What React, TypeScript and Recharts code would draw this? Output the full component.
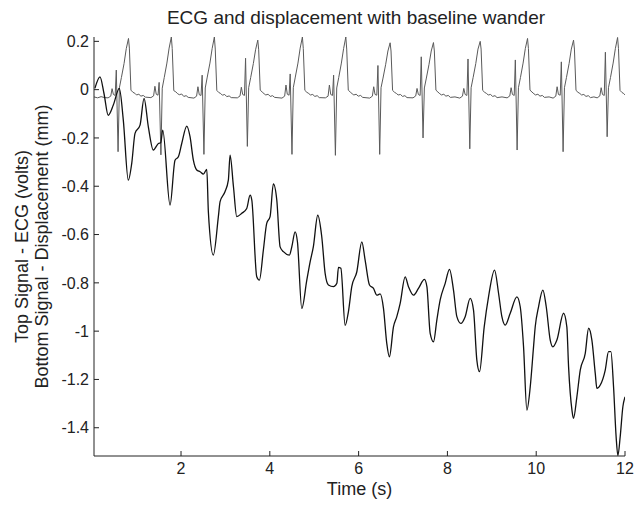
import { LineChart, Line, XAxis, YAxis, Label } from "recharts";

const FONT = '"Liberation Sans", Arial, sans-serif';

const timeTicks = [2, 4, 6, 8, 10, 12];
const signalTicks = [0.2, 0, -0.2, -0.4, -0.6, -0.8, -1, -1.2, -1.4];

// ECG (volts), [time s, value], one array per beat
const ecgLead = [[0.04, -0.03], [0.12, -0.034], [0.2, -0.029], [0.28, -0.033]];
const ecgBeat01 = [[0.357, -0.034], [0.417, -0.027], [0.447, 0.004], [0.477, -0.02], [0.517, -0.024], [0.542, 0.081], [0.582, -0.257], [0.612, 0.008], [0.657, 0.05], [0.717, 0.108], [0.767, 0.17], [0.817, 0.212], [0.837, 0.172], [0.872, -0.002], [0.917, -0.011], [0.96, -0.015], [0.997, -0.022], [1.05, -0.019], [1.097, -0.027], [1.15, -0.024], [1.197, -0.031]];
const ecgBeat02 = [[1.322, -0.033], [1.382, -0.026], [1.412, 0.014], [1.442, -0.019], [1.482, -0.023], [1.507, 0.03], [1.547, -0.27], [1.577, 0.006], [1.622, 0.05], [1.682, 0.11], [1.732, 0.172], [1.782, 0.218], [1.802, 0.17], [1.837, -0.004], [1.882, -0.009], [1.925, -0.017], [1.962, -0.021], [2.015, -0.018], [2.062, -0.028], [2.115, -0.025], [2.162, -0.032]];
const ecgBeat03 = [[2.291, -0.035], [2.351, -0.027], [2.381, 0.012], [2.411, -0.021], [2.451, -0.024], [2.476, 0.06], [2.516, -0.268], [2.546, 0.007], [2.591, 0.052], [2.651, 0.11], [2.701, 0.17], [2.751, 0.218], [2.771, 0.168], [2.806, -0.003], [2.851, -0.012], [2.894, -0.016], [2.931, -0.023], [2.984, -0.02], [3.031, -0.029], [3.084, -0.026], [3.131, -0.033]];
const ecgBeat04 = [[3.269, -0.034], [3.329, -0.026], [3.359, 0.01], [3.389, -0.02], [3.429, -0.024], [3.454, 0.13], [3.494, -0.235], [3.524, 0.008], [3.569, 0.05], [3.629, 0.108], [3.679, 0.165], [3.729, 0.205], [3.749, 0.165], [3.784, -0.002], [3.829, -0.01], [3.872, -0.017], [3.909, -0.022], [3.962, -0.019], [4.009, -0.028], [4.062, -0.025], [4.109, -0.032]];
const ecgBeat05 = [[4.274, -0.035], [4.334, -0.027], [4.364, 0.019], [4.394, -0.019], [4.434, -0.023], [4.459, 0.065], [4.499, -0.268], [4.529, 0.008], [4.574, 0.052], [4.634, 0.11], [4.684, 0.172], [4.734, 0.218], [4.754, 0.17], [4.789, -0.003], [4.834, -0.011], [4.877, -0.016], [4.914, -0.022], [4.967, -0.02], [5.014, -0.028], [5.067, -0.025], [5.114, -0.033]];
const ecgBeat06 = [[5.252, -0.034], [5.312, -0.027], [5.342, 0.019], [5.372, -0.02], [5.412, -0.024], [5.437, 0.06], [5.477, -0.272], [5.507, 0.007], [5.552, 0.05], [5.612, 0.11], [5.662, 0.17], [5.712, 0.218], [5.732, 0.168], [5.767, -0.002], [5.812, -0.01], [5.855, -0.017], [5.892, -0.022], [5.945, -0.019], [5.992, -0.027], [6.045, -0.024], [6.092, -0.032]];
const ecgBeat07 = [[6.25, -0.035], [6.31, -0.027], [6.34, 0.012], [6.37, -0.02], [6.41, -0.023], [6.435, 0.1], [6.475, -0.268], [6.505, 0.008], [6.55, 0.048], [6.61, 0.105], [6.66, 0.16], [6.71, 0.194], [6.73, 0.16], [6.765, -0.003], [6.81, -0.011], [6.853, -0.016], [6.89, -0.022], [6.943, -0.02], [6.99, -0.028], [7.043, -0.025], [7.09, -0.033]];
const ecgBeat08 = [[7.226, -0.034], [7.286, -0.026], [7.316, 0.005], [7.346, -0.02], [7.386, -0.024], [7.411, 0.136], [7.451, -0.2], [7.481, 0.007], [7.526, 0.048], [7.586, 0.105], [7.636, 0.16], [7.686, 0.195], [7.706, 0.16], [7.741, -0.002], [7.786, -0.01], [7.829, -0.017], [7.866, -0.022], [7.919, -0.019], [7.966, -0.027], [8.019, -0.024], [8.066, -0.032], [8.17, -0.03]];
const ecgBeat09 = [[8.279, -0.035], [8.339, -0.027], [8.369, 0.005], [8.399, -0.02], [8.439, -0.024], [8.464, 0.127], [8.504, -0.245], [8.534, 0.008], [8.579, 0.05], [8.639, 0.108], [8.689, 0.168], [8.739, 0.2], [8.759, 0.168], [8.794, -0.003], [8.839, -0.011], [8.882, -0.016], [8.919, -0.022], [8.972, -0.02], [9.019, -0.028], [9.072, -0.025], [9.119, -0.033], [9.23, -0.03]];
const ecgBeat10 = [[9.345, -0.034], [9.405, -0.026], [9.435, 0.008], [9.465, -0.02], [9.505, -0.024], [9.53, 0.123], [9.57, -0.25], [9.6, 0.008], [9.645, 0.05], [9.705, 0.11], [9.755, 0.17], [9.805, 0.212], [9.825, 0.17], [9.86, -0.002], [9.905, -0.01], [9.948, -0.017], [9.985, -0.022], [10.038, -0.019], [10.085, -0.027], [10.138, -0.024], [10.185, -0.032], [10.29, -0.03]];
const ecgBeat11 = [[10.381, -0.035], [10.441, -0.027], [10.471, 0.012], [10.501, -0.02], [10.541, -0.023], [10.566, 0.115], [10.606, -0.257], [10.636, 0.008], [10.681, 0.05], [10.741, 0.108], [10.791, 0.168], [10.841, 0.205], [10.861, 0.168], [10.896, -0.003], [10.941, -0.011], [10.984, -0.016], [11.021, -0.022], [11.074, -0.02], [11.121, -0.028], [11.174, -0.025], [11.221, -0.033], [11.3, -0.03]];
const ecgBeat12 = [[11.373, -0.034], [11.433, -0.026], [11.463, 0.008], [11.493, -0.02], [11.533, -0.024], [11.558, 0.155], [11.598, -0.195], [11.628, 0.008], [11.673, 0.05], [11.733, 0.11], [11.783, 0.17], [11.833, 0.216], [11.853, 0.17], [11.888, -0.003], [11.933, -0.012], [11.97, -0.016], [12.0, -0.022]];

// displacement (mm), [time s, value]
const displacementEarly = [[0.06, 0.005], [0.175, 0.053], [0.265, -0.016], [0.36, -0.106], [0.475, -0.064], [0.61, 0.005], [0.7, -0.126], [0.813, -0.375], [0.89, -0.305], [0.964, -0.181], [1.077, -0.147], [1.167, -0.036], [1.264, -0.154], [1.376, -0.25], [1.49, -0.223], [1.543, -0.22], [1.588, -0.168], [1.753, -0.478], [1.865, -0.292], [1.94, -0.278], [2.016, -0.223], [2.13, -0.151], [2.203, -0.195], [2.278, -0.292], [2.354, -0.333], [2.43, -0.34], [2.503, -0.35], [2.58, -0.33], [2.616, -0.506], [2.728, -0.685], [2.841, -0.526], [2.88, -0.464], [2.99, -0.423], [3.066, -0.375], [3.105, -0.271], [3.18, -0.4], [3.256, -0.526], [3.368, -0.512], [3.48, -0.492], [3.556, -0.437], [3.594, -0.457], [3.706, -0.775], [3.765, -0.789], [3.855, -0.664], [3.93, -0.554], [4.006, -0.526], [4.08, -0.39]];
const displacementMid = [[4.157, -0.457], [4.232, -0.651], [4.306, -0.671], [4.441, -0.685], [4.495, -0.651], [4.57, -0.589], [4.622, -0.63], [4.72, -0.906], [4.833, -0.789], [4.908, -0.713], [4.98, -0.651], [5.08, -0.52], [5.17, -0.609], [5.246, -0.761], [5.32, -0.809], [5.433, -0.816], [5.51, -0.802], [5.546, -0.736], [5.6, -0.74], [5.697, -0.976], [5.77, -0.92], [5.846, -0.816], [5.96, -0.754], [6.072, -0.63], [6.147, -0.706], [6.245, -0.809], [6.335, -0.823], [6.41, -0.851], [6.485, -0.846], [6.56, -0.906], [6.634, -1.05], [6.694, -1.106], [6.785, -0.982], [6.86, -0.94], [6.936, -0.885], [7.048, -0.775], [7.123, -0.816], [7.236, -0.851], [7.348, -0.823], [7.483, -0.786], [7.538, -0.816], [7.612, -1.009], [7.687, -1.044], [7.762, -0.954], [7.837, -0.871], [7.95, -0.802], [8.047, -0.744]];
const displacementLate = [[8.137, -0.83], [8.213, -0.94], [8.303, -0.968], [8.4, -0.94], [8.513, -0.864], [8.588, -0.913], [8.663, -1.12], [8.723, -1.168], [8.829, -0.982], [8.926, -0.858], [9.062, -0.747], [9.152, -0.843], [9.227, -0.94], [9.302, -0.975], [9.415, -0.926], [9.565, -0.858], [9.64, -0.899], [9.715, -1.065], [9.79, -1.327], [9.866, -1.23], [9.94, -1.065], [9.978, -0.982], [10.053, -0.899], [10.15, -0.83], [10.226, -0.899], [10.316, -1.037], [10.376, -1.065], [10.466, -1.037], [10.616, -0.926], [10.69, -0.982], [10.729, -1.147], [10.805, -1.327], [10.84, -1.361], [10.916, -1.272], [10.992, -1.161], [11.105, -1.092], [11.18, -0.988], [11.254, -1.037], [11.33, -1.175], [11.367, -1.237], [11.443, -1.223], [11.555, -1.161], [11.63, -1.085], [11.682, -1.085], [11.742, -1.23], [11.8, -1.437], [11.84, -1.515], [11.892, -1.437], [11.952, -1.313], [12.0, -1.272]];

const toRows = (pairs: number[][]) => pairs.map(([t, v]) => ({ t, v }));

const ecg = toRows([
  ...ecgLead, ...ecgBeat01, ...ecgBeat02, ...ecgBeat03, ...ecgBeat04, ...ecgBeat05, ...ecgBeat06,
  ...ecgBeat07, ...ecgBeat08, ...ecgBeat09, ...ecgBeat10, ...ecgBeat11, ...ecgBeat12,
]);
const displacement = toRows([...displacementEarly, ...displacementMid, ...displacementLate]);

const fmtSignal = (v: number) => {
  const r = Math.round(v * 10) / 10;
  return r === 0 ? "0" : String(r);
};

const tickStyle = { fontFamily: FONT, fontSize: 16, fill: "#222" };

const YTitle = ({ viewBox }: any) => {
  const cy = viewBox.y + viewBox.height / 2;
  return (
    <g fontFamily={FONT} fontSize={18} fill="#222">
      <text transform={`translate(28, ${cy}) rotate(-90)`} textAnchor="middle">
        Top Signal - ECG (volts)
      </text>
      <text transform={`translate(48, ${cy}) rotate(-90)`} textAnchor="middle">
        Bottom Signal - Displacement (mm)
      </text>
    </g>
  );
};

export default function App() {
  return (
    <div style={{ position: "absolute", left: 0, top: 0, width: 636, height: 506, background: "#fff" }}>
      <div
        style={{
          position: "absolute",
          left: 56,
          width: 600,
          top: 8,
          textAlign: "center",
          fontFamily: FONT,
          fontSize: 19,
          lineHeight: "19px",
          color: "#222",
        }}
      >
        ECG and displacement with baseline wander
      </div>
      <LineChart width={636} height={506} margin={{ top: 37, right: 11, bottom: 0, left: 0 }}>
        <XAxis
          dataKey="t"
          type="number"
          domain={[0.04, 12]}
          ticks={timeTicks}
          allowDataOverflow
          height={50}
          stroke="#222"
          tickSize={-5}
          tickMargin={12}
          tick={tickStyle}
        >
          <Label value="Time (s)" position="insideBottom" offset={11} style={{ fontFamily: FONT, fontSize: 18, fill: "#222" }} />
        </XAxis>
        <XAxis
          xAxisId="top"
          orientation="top"
          dataKey="t"
          type="number"
          domain={[0.04, 12]}
          ticks={timeTicks}
          allowDataOverflow
          height={0}
          stroke="#222"
          tickSize={-5}
          tick={false}
        />
        <YAxis
          type="number"
          domain={[-1.517, 0.218]}
          ticks={signalTicks}
          allowDataOverflow
          width={94}
          stroke="#222"
          tickSize={-5}
          tickMargin={10}
          tick={tickStyle}
          tickFormatter={fmtSignal}
        >
          <Label content={YTitle} />
        </YAxis>
        <YAxis
          yAxisId="right"
          orientation="right"
          type="number"
          domain={[-1.517, 0.218]}
          ticks={signalTicks}
          allowDataOverflow
          width={0}
          stroke="#222"
          tickSize={-5}
          tick={false}
        />
        <Line data={ecg} dataKey="v" stroke="#5a5a5a" strokeWidth={1} dot={false} isAnimationActive={false} />
        <Line
          data={displacement}
          dataKey="v"
          type="monotone"
          stroke="#111"
          strokeWidth={1.3}
          dot={false}
          isAnimationActive={false}
        />
      </LineChart>
    </div>
  );
}
